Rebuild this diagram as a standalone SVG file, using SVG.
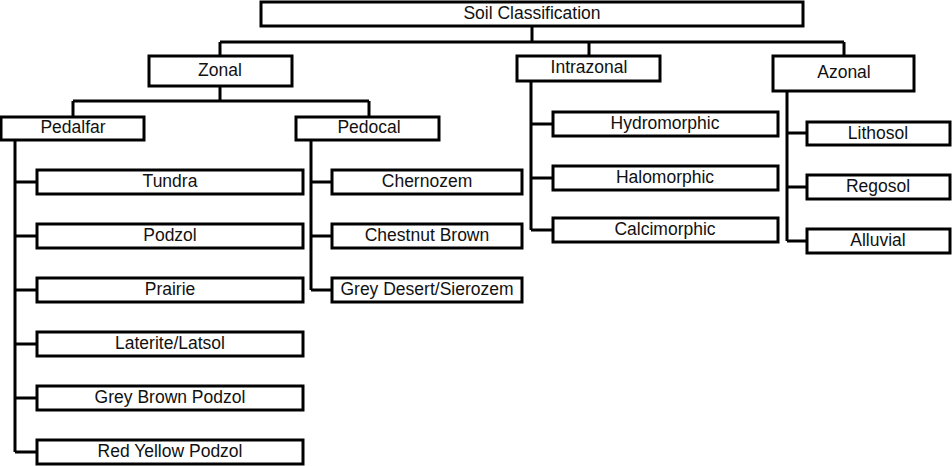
<svg xmlns="http://www.w3.org/2000/svg" width="952" height="466" viewBox="0 0 952 466">
<style>
rect{fill:#fff;stroke:#000;stroke-width:3}
text{font-family:"Liberation Sans",Arial,sans-serif;font-size:17.5px;text-anchor:middle;dominant-baseline:central;fill:#111}
#connectors path{fill:none;stroke:#000;stroke-width:3}
</style>
<rect width="952" height="466" style="stroke:none"/>
<g id="connectors">
<path d="M532 26V42M220 42H844M220 42V56M589 42V56M844 42V56"/>
<path d="M220 86V101M73 101H369M73 101V117M369 101V117"/>
<path d="M15 140V452M15 182H37M15 236H37M15 290H37M15 344H37M15 398H37M15 452H37"/>
<path d="M311 140V290M311 182H332M311 236H332M311 290H332"/>
<path d="M531 81V230M531 124H553M531 178H553M531 230H553"/>
<path d="M787 91V241M787 133H807M787 187H807M787 241H807"/>
</g>
<g id="root"><rect x="261" y="2" width="542" height="24"/><text x="532" y="13">Soil Classification</text></g>
<g id="zonal"><rect x="149" y="56" width="143" height="30"/><text x="220" y="70">Zonal</text></g>
<g id="intrazonal"><rect x="517" y="56" width="143" height="25"/><text x="589" y="67">Intrazonal</text></g>
<g id="azonal"><rect x="773" y="56" width="141" height="35"/><text x="844" y="72">Azonal</text></g>
<g id="pedalfar"><rect x="1" y="117" width="143" height="23"/><text x="73" y="127">Pedalfar</text></g>
<g id="pedocal"><rect x="296" y="117" width="143" height="23"/><text x="369" y="127">Pedocal</text></g>
<g id="tundra"><rect x="37" y="170" width="266" height="24"/><text x="170" y="181">Tundra</text></g>
<g id="podzol"><rect x="37" y="224" width="266" height="24"/><text x="170" y="235">Podzol</text></g>
<g id="prairie"><rect x="37" y="278" width="266" height="24"/><text x="170" y="289">Prairie</text></g>
<g id="laterite"><rect x="37" y="332" width="266" height="24"/><text x="170" y="343">Laterite/Latsol</text></g>
<g id="greybrown"><rect x="37" y="386" width="266" height="24"/><text x="170" y="397">Grey Brown Podzol</text></g>
<g id="redyellow"><rect x="37" y="440" width="266" height="24"/><text x="170" y="451">Red Yellow Podzol</text></g>
<g id="chernozem"><rect x="332" y="170" width="190" height="24"/><text x="427" y="181">Chernozem</text></g>
<g id="chestnut"><rect x="332" y="224" width="190" height="24"/><text x="427" y="235">Chestnut Brown</text></g>
<g id="greydesert"><rect x="332" y="278" width="190" height="24"/><text x="427" y="289">Grey Desert/Sierozem</text></g>
<g id="hydromorphic"><rect x="553" y="112" width="225" height="24"/><text x="665" y="123">Hydromorphic</text></g>
<g id="halomorphic"><rect x="553" y="166" width="225" height="24"/><text x="665" y="177">Halomorphic</text></g>
<g id="calcimorphic"><rect x="553" y="218" width="225" height="24"/><text x="665" y="229">Calcimorphic</text></g>
<g id="lithosol"><rect x="807" y="122" width="143" height="23"/><text x="878" y="133">Lithosol</text></g>
<g id="regosol"><rect x="807" y="175" width="143" height="24"/><text x="878" y="186">Regosol</text></g>
<g id="alluvial"><rect x="807" y="229" width="143" height="24"/><text x="878" y="240">Alluvial</text></g>
</svg>
